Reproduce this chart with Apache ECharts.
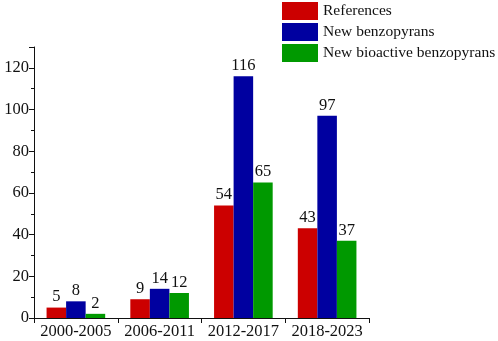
<!DOCTYPE html>
<html>
<head>
<meta charset="utf-8">
<script src="https://cdn.jsdelivr.net/npm/echarts@6/dist/echarts.min.js"></script>
<style>html,body{margin:0;padding:0;background:#fff}#c{width:498px;height:341px}</style>
</head>
<body>
<div id="c"></div>
<script>
const categories = ['2000-2005', '2006-2011', '2012-2017', '2018-2023'];
const references = [5, 9, 54, 43];
const newBenzopyrans = [8, 14, 116, 97];
const newBioactive = [2, 12, 65, 37];
const seriesNames = ['References', 'New benzopyrans', 'New bioactive benzopyrans'];
const colors = ['#cc0000', '#0000a0', '#009900'];

const font = '"Liberation Serif", "DejaVu Serif", serif';
const chart = echarts.init(document.getElementById('c'));
const lbl = {show: true, position: 'top', distance: 2, color: '#111', fontFamily: font, fontSize: 16.5};
chart.setOption({
  animation: false,
  textStyle: {fontFamily: font},
  grid: {left: 34, right: 129, top: 47, bottom: 23, containLabel: false},
  legend: {
    orient: 'vertical', left: 282, top: 2, padding: 0, itemWidth: 36, itemHeight: 18, itemGap: 3,
    icon: 'rect',
    textStyle: {fontFamily: font, fontSize: 15.5, color: '#111'},
    data: seriesNames
  },
  xAxis: [{
    type: 'category', data: categories,
    axisLine: {lineStyle: {color: '#111', width: 1}},
    axisTick: {alignWithLabel: true, length: 5, lineStyle: {color: '#111'}},
    axisLabel: {interval: 0, color: '#111', fontFamily: font, fontSize: 16.5, margin: 5}
  }, {
    type: 'category', data: categories, position: 'bottom',
    axisLine: {show: false},
    axisTick: {show: true, length: 5, lineStyle: {color: '#111'}},
    axisLabel: {show: false}
  }],
  yAxis: {
    type: 'value', min: 0, max: 130, interval: 20,
    axisLine: {show: true, lineStyle: {color: '#111'}},
    axisTick: {show: true, length: 5, lineStyle: {color: '#111'}},
    minorTick: {show: true, splitNumber: 2, length: 3, lineStyle: {color: '#111'}},
    splitLine: {show: false},
    axisLabel: {color: '#111', fontFamily: font, fontSize: 16.5, margin: 5, showMaxLabel: false,
      formatter: v => (v % 20 === 0 ? String(v) : '')}
  },
  series: [
    {name: seriesNames[0], type: 'bar', data: references, itemStyle: {color: colors[0]}, barGap: '0%', barCategoryGap: '30%', label: lbl},
    {name: seriesNames[1], type: 'bar', data: newBenzopyrans, itemStyle: {color: colors[1]}, barGap: '0%', barCategoryGap: '30%', label: lbl},
    {name: seriesNames[2], type: 'bar', data: newBioactive, itemStyle: {color: colors[2]}, barGap: '0%', barCategoryGap: '30%', label: lbl}
  ]
});
</script>
</body>
</html>
